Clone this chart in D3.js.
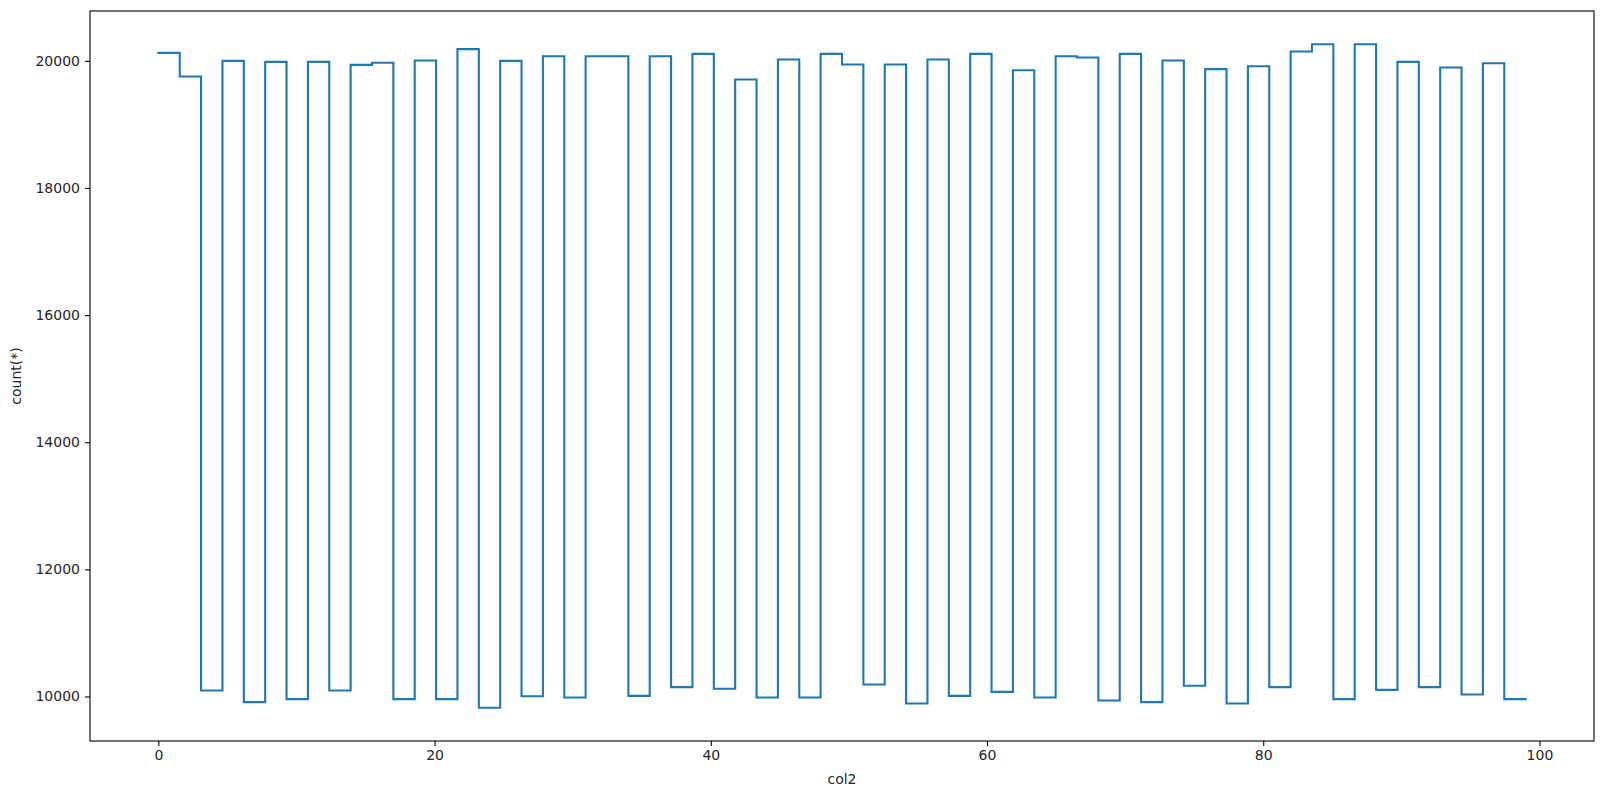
<!DOCTYPE html>
<html>
<head>
<meta charset="utf-8">
<script src="https://cdn.jsdelivr.net/npm/d3@7"></script>
<style>
  html, body { margin: 0; padding: 0; background: #ffffff; }
  svg { display: block; }
  text { font-family: "DejaVu Sans", sans-serif; fill: #262626; }
</style>
</head>
<body>
<svg id="chart" width="1600" height="793"></svg>
<script>
// Histogram of col2: 64 bins spanning [0, 99]
const histMin = 0;
const histMax = 99;
const counts = [
  20126, 19753, 10094, 20000, 9911, 19984, 9958, 19984,
  10094, 19937, 19969, 9958, 20005, 9958, 20184, 9822,
  20000, 10005, 20073, 9984, 20073, 20073, 10010, 20073,
  10147, 20110, 10121, 19706, 9984, 20021, 9984, 20110,
  19942, 10189, 19942, 9890, 20021, 10010, 20110, 10073,
  19853, 9984, 20073, 20052, 9937, 20110, 9911, 20005,
  10168, 19869, 9890, 19916, 10147, 20147, 20262, 9958,
  20262, 10105, 19984, 10147, 19895, 10031, 19963, 9958
];
const xTicks = [0, 20, 40, 60, 80, 100];
const yTicks = [10000, 12000, 14000, 16000, 18000, 20000];
const xLabel = "col2";
const yLabel = "count(*)";

(function () {
  const svg = d3.select("#chart");
  const mLeft = 90, mRight = 1594, mTop = 11, mBottom = 741;

  const nBins = counts.length;
  const binW = (histMax - histMin) / nBins;
  const points = counts.map((c, i) => [histMin + i * binW, c]);
  points.push([histMax, counts[nBins - 1]]);

  const xPad = (histMax - histMin) * 0.05;
  const yMin = d3.min(counts), yMax = d3.max(counts);
  const yPad = (yMax - yMin) * 0.05;

  const x = d3.scaleLinear().domain([histMin - xPad, histMax + xPad]).range([mLeft, mRight]);
  const y = d3.scaleLinear().domain([yMin - yPad, yMax + yPad]).range([mBottom, mTop]);

  // x axis
  const xAxis = d3.axisBottom(x).tickValues(xTicks).tickSize(5).tickPadding(4).tickFormat(d3.format("d"));
  const gx = svg.append("g").attr("transform", `translate(0,${mBottom})`).call(xAxis);
  gx.select(".domain").remove();
  gx.selectAll("line").attr("stroke", "#000").attr("stroke-width", 1.1);
  gx.selectAll("text").attr("font-size", 14).attr("font-family", "DejaVu Sans").attr("fill", "#262626");

  // y axis
  const yAxis = d3.axisLeft(y).tickValues(yTicks).tickSize(5).tickPadding(5).tickFormat(d3.format("d"));
  const gy = svg.append("g").attr("transform", `translate(${mLeft},0)`).call(yAxis);
  gy.select(".domain").remove();
  gy.selectAll("line").attr("stroke", "#000").attr("stroke-width", 1.1);
  gy.selectAll("text").attr("font-size", 14).attr("font-family", "DejaVu Sans").attr("fill", "#262626");

  // step line
  const line = d3.line().x(d => x(d[0])).y(d => y(d[1])).curve(d3.curveStepAfter);
  svg.append("path")
    .datum(points)
    .attr("d", line)
    .attr("fill", "none")
    .attr("stroke", "#1f77b4")
    .attr("stroke-width", 2.1)
    .attr("stroke-linejoin", "miter")
    .attr("stroke-linecap", "square");

  // frame
  svg.append("rect")
    .attr("x", mLeft).attr("y", mTop)
    .attr("width", mRight - mLeft).attr("height", mBottom - mTop)
    .attr("fill", "none").attr("stroke", "#000").attr("stroke-width", 1.1);

  // axis labels
  svg.append("text")
    .attr("x", (mLeft + mRight) / 2).attr("y", 784)
    .attr("text-anchor", "middle").attr("font-size", 14)
    .text(xLabel);
  svg.append("text")
    .attr("transform", `translate(21,${(mTop + mBottom) / 2}) rotate(-90)`)
    .attr("text-anchor", "middle").attr("font-size", 14)
    .text(yLabel);
})();
</script>
</body>
</html>
